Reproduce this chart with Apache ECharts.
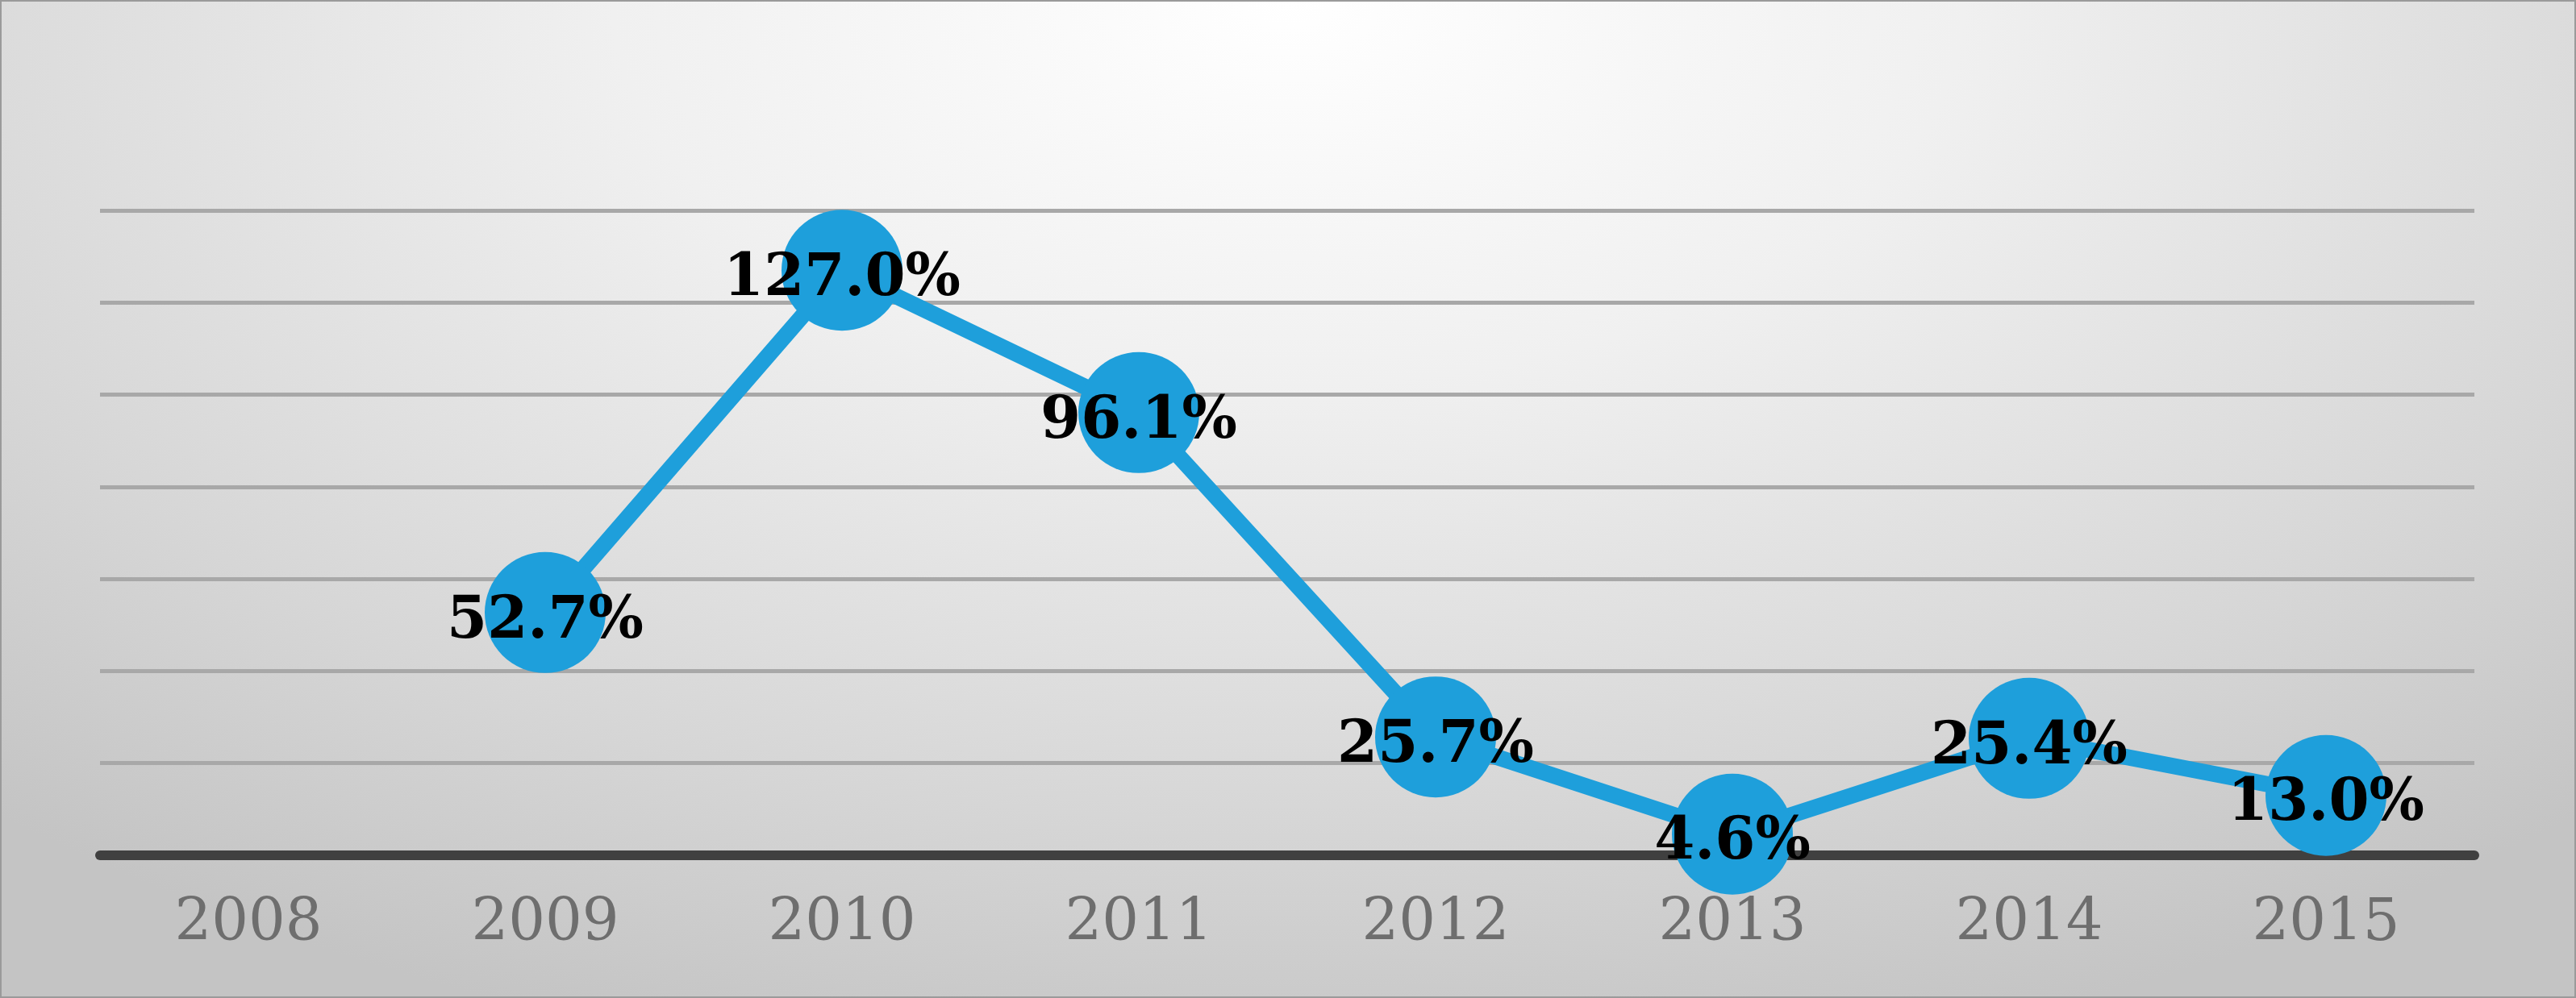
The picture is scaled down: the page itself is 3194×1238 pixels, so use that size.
<!DOCTYPE html>
<html>
<head>
<meta charset="utf-8">
<script src="https://cdn.jsdelivr.net/npm/echarts@6/dist/echarts.min.js"></script>
<style>
  html, body { margin: 0; padding: 0; }
  #chart {
    width: 3190px; height: 1234px;
    border: 2px solid #9a9a9a;
    background: radial-gradient(ellipse 75% 110% at 50% 0%, #ffffff 0%, #f0f0f0 35%, #d6d6d6 75%, #c4c4c4 100%);
  }
</style>
</head>
<body>
<div id="chart"></div>
<script>
const years = ['2008', '2009', '2010', '2011', '2012', '2013', '2014', '2015']
const growth = [null, 52.7, 127.0, 96.1, 25.7, 4.6, 25.4, 13.0]

const chart = echarts.init(document.getElementById('chart'))
chart.setOption({
  grid: { left: 122, right: 124, top: 259, bottom: 175 },
  xAxis: {
    type: 'category',
    data: years,
    axisLine: { lineStyle: { color: '#404040', width: 12 } },
    axisTick: { show: false },
    axisLabel: { color: '#6e6e6e', fontFamily: 'DejaVu Serif', fontSize: 72, margin: 50 }
  },
  yAxis: {
    type: 'value',
    min: 0, max: 140, interval: 20,
    axisLabel: { show: false },
    axisLine: { show: false },
    splitLine: { lineStyle: { color: '#a8a8a8', width: 5 } }
  },
  series: [{
    type: 'line',
    data: growth,
    connectNulls: false,
    lineStyle: { color: '#1e9fdb', width: 20 },
    itemStyle: { color: '#1e9fdb' },
    symbol: 'circle',
    symbolSize: 150,
    label: {
      show: true,
      position: 'inside',
      offset: [0, 12],
      formatter: p => p.value.toFixed(1) + '%',
      color: '#000',
      fontFamily: 'DejaVu Serif',
      fontWeight: 'bold',
      fontSize: 72
    }
  }]
})
</script>
</body>
</html>
